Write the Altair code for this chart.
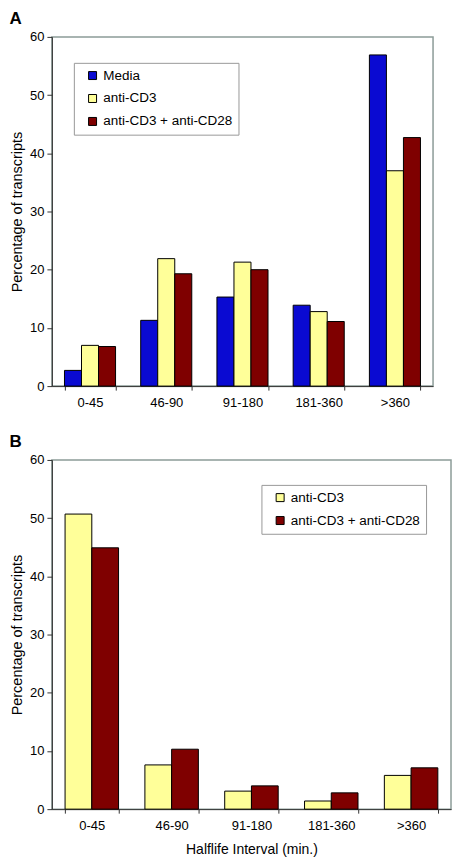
import altair as alt
import pandas as pd

intervals = ["0-45", "46-90", "91-180", "181-360", ">360"]

# Panel A
conds_a = ["Media", "anti-CD3", "anti-CD3 + anti-CD28"]
media_a = [2.7, 11.3, 15.3, 13.9, 56.9]
cd3_a = [7.0, 21.9, 21.3, 12.8, 37.0]
cd28_a = [6.8, 19.3, 20.0, 11.1, 42.7]
colors_a = ["#0a0ad2", "#ffff99", "#7f0000"]

# Panel B
conds_b = ["anti-CD3", "anti-CD3 + anti-CD28"]
cd3_b = [50.7, 7.6, 3.1, 1.4, 5.8]
cd28_b = [44.9, 10.3, 4.0, 2.8, 7.1]
colors_b = ["#ffff99", "#7f0000"]

y_ticks = [0, 10, 20, 30, 40, 50, 60]

rows_a = []
for cond, vals in zip(conds_a, [media_a, cd3_a, cd28_a]):
    for iv, v in zip(intervals, vals):
        rows_a.append({"interval": iv, "condition": cond, "value": v})
df_a = pd.DataFrame(rows_a)

rows_b = []
for cond, vals in zip(conds_b, [cd3_b, cd28_b]):
    for iv, v in zip(intervals, vals):
        rows_b.append({"interval": iv, "condition": cond, "value": v})
df_b = pd.DataFrame(rows_b)

FONT = "Liberation Sans"
DARK = "#333333"
FRAME = "#8c9c98"


def panel(df, conds, colors, letter, width, legend_x, legend_y, xtitle):
    x_axis = alt.Axis(
        labelAngle=0, tickBand="extent", tickSize=4, tickColor=DARK,
        domainColor=DARK, labelFontSize=13, labelColor="black", labelPadding=6,
        titleFontSize=14, titleFontWeight="normal", titleColor="black",
        titlePadding=10, title=xtitle,
    )
    return alt.Chart(df).mark_bar(stroke="black", strokeWidth=1).encode(
        x=alt.X("interval:N", sort=intervals,
                scale=alt.Scale(paddingInner=0.33, paddingOuter=0.165),
                axis=x_axis),
        xOffset=alt.XOffset("condition:N", sort=conds),
        y=alt.Y("value:Q", scale=alt.Scale(domain=[0, 60], nice=False),
                axis=alt.Axis(values=y_ticks, grid=False, tickSize=5,
                              tickColor=DARK, domainColor=DARK,
                              labelFontSize=13, labelColor="black",
                              labelPadding=3,
                              title="Percentage of transcripts",
                              titleFontSize=14.5, titleFontWeight="normal",
                              titleColor="black", titlePadding=5)),
        color=alt.Color("condition:N",
                        scale=alt.Scale(domain=conds, range=colors),
                        sort=conds,
                        legend=alt.Legend(
                            title=None, orient="none",
                            legendX=legend_x, legendY=legend_y,
                            fillColor="white", strokeColor="#999999",
                            padding=6, symbolOffset=6, rowPadding=8,
                            symbolType="square", symbolSize=64,
                            symbolStrokeColor="black", symbolStrokeWidth=1,
                            labelFontSize=13.5, labelColor="black",
                            labelOffset=4, labelLimit=300)),
    ).properties(
        width=width, height=350,
        title=alt.TitleParams(letter, anchor="start", frame="bounds",
                              fontSize=17, fontWeight="bold", color="black",
                              offset=3),
    )


chart_a = panel(df_a, conds_a, colors_a, "A", 382, 22, 26, None)
chart_b = panel(df_b, conds_b, colors_b, "B", 400, 210, 25,
                "Halflife Interval (min.)")

chart = alt.vconcat(chart_a, chart_b, spacing=22).resolve_scale(
    x="independent", xOffset="independent", y="independent",
    color="independent"
).resolve_legend(color="independent").properties(
    padding=0
).configure(font=FONT).configure_view(stroke=FRAME, strokeWidth=1.5)

chart.save("out.html", embed_options={"renderer": "svg", "actions": False})
